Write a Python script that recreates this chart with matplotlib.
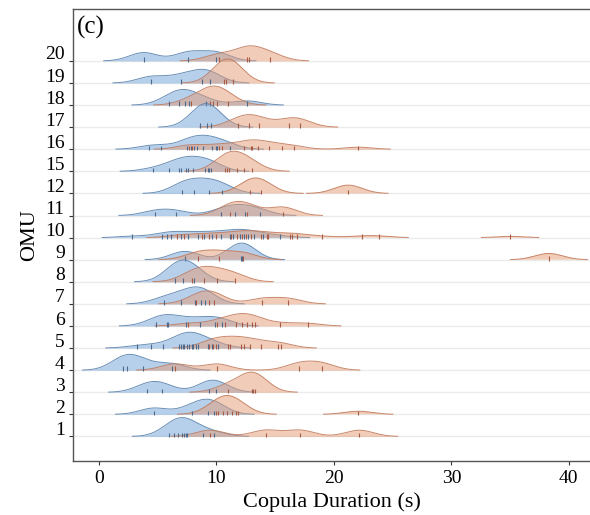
import matplotlib
matplotlib.use("Agg")
import matplotlib.pyplot as plt
import matplotlib.transforms as mtransforms
import numpy as np

plt.rcParams["font.family"] = ["Liberation Serif", "DejaVu Serif"]

# OMU labels, bottom to top
omu_labels = ["1", "2", "3", "4", "5", "6", "7", "8", "9", "10",
              "11", "12", "15", "16", "17", "18", "19", "20"]

# copula durations (s) per OMU, blue group
blue_durations = [
    [5.99, 6.38, 6.75, 7.09, 7.23, 7.38, 7.46, 8.82, 9.79],
    [4.68, 7.89, 9.3, 9.82],
    [4.11, 5.39, 9.39, 10.0],
    [2.01, 2.41, 3.72, 6.18],
    [3.21, 4.43, 5.48, 6.84, 6.98, 7.12, 7.26, 7.46, 7.69, 7.89, 8.03, 8.26,
     8.45, 9.25, 9.59, 10.10],
    [4.82, 5.76, 5.84, 7.38, 8.60, 9.87, 10.44],
    [5.56, 6.98, 8.17, 8.65, 9.02],
    [6.50, 7.12, 8.06],
    [7.32, 12.09, 12.20],
    [2.78, 5.36, 5.76, 6.10, 6.98, 7.55, 8.40, 8.96, 9.65, 10.38, 11.15, 11.43,
     12.00, 12.34, 12.65, 13.22, 13.99, 15.40],
    [4.79, 6.52, 10.38, 11.55, 12.40, 13.67],
    [7.04, 8.06, 9.33, 10.44],
    [4.62, 5.99, 6.84, 6.98, 7.43, 7.57, 7.97, 9.02, 9.25, 9.39, 9.53],
    [4.26, 5.30, 7.52, 7.80, 8.09, 8.31, 8.88, 9.65, 9.93, 10.07, 11.15],
    [8.60, 9.16, 9.56],
    [5.96, 6.81, 7.32, 7.63, 9.08, 12.62],
    [4.45, 6.98, 8.77, 9.42],
    [3.80, 7.60, 9.96],
]

# copula durations (s) per OMU, orange group
orange_durations = [
    [9.45, 14.18, 17.11, 22.16],
    [9.96, 10.16, 10.58, 10.87, 11.35, 11.63, 11.80, 22.07],
    [11.01, 12.99, 13.14, 13.28],
    [6.47, 10.01, 17.05, 18.95],
    [9.39, 9.73, 9.93, 11.01, 11.15, 12.09, 12.37, 12.85, 13.76, 15.26, 15.46],
    [7.60, 10.01, 10.72, 11.63, 12.14, 12.57, 13.00, 13.28, 15.40, 17.76],
    [8.3, 9.39, 9.82, 13.90, 16.11],
    [7.9, 8.94, 10.01, 11.55],
    [8.40, 10.2, 12.30, 38.3],
    [6.67, 7.26, 8.79, 9.39, 9.93, 11.26, 11.72, 12.14, 12.48, 12.94, 13.79,
     14.27, 14.41, 16.26, 16.43, 16.82, 18.95, 22.35, 23.86, 35.0],
    [11.18, 12.57, 15.63],
    [12.88, 13.79, 21.22],
    [10.72, 10.89, 11.06, 11.72, 12.37, 12.99],
    [7.66, 7.94, 10.21, 10.50, 12.34, 12.91, 13.05, 13.56, 14.47, 15.60,
     16.62, 22.07],
    [11.80, 12.79, 13.62, 16.17, 17.11],
    [7.83, 9.42, 9.70, 10.01, 10.98],
    [10.67, 10.81, 11.40],
    [10.18, 12.62, 12.79, 14.58],
]

BW = 1.2      # shared kde bandwidth (s)
SCALE = 3.4   # density -> row units

BLUE_FILL, BLUE_LINE, BLUE_RUG = "#6fa3d8", "#5a82ad", "#4d6a8c"
ORANGE_FILL, ORANGE_LINE, ORANGE_RUG = "#e59a72", "#c27a5c", "#a85a44"


def kde(values, bw):
    values = np.asarray(values, dtype=float)
    grid = np.linspace(values.min() - 3 * bw, values.max() + 3 * bw, 800)
    z = (grid[:, None] - values[None, :]) / bw
    dens = np.exp(-0.5 * z ** 2).sum(axis=1) / (len(values) * bw * np.sqrt(2 * np.pi))
    # drop the flat stretches between far-apart clusters
    dens[dens < 2e-3] = np.nan
    return grid, dens


fig = plt.figure(figsize=(5.9, 5.15), dpi=100)
ax = fig.add_axes([0.1237, 0.1049, 0.8763, 0.8776])

n_rows = len(omu_labels)
for i in range(n_rows):
    ax.axhline(i, color="#ebebeb", lw=1.0, zorder=0)

for i in reversed(range(n_rows)):
    z = 2 * (n_rows - i)
    for vals, fill, line, rug in [
        (blue_durations[i], BLUE_FILL, BLUE_LINE, BLUE_RUG),
        (orange_durations[i], ORANGE_FILL, ORANGE_LINE, ORANGE_RUG),
    ]:
        gx, gd = kde(vals, BW)
        top = i + SCALE * gd
        ax.fill_between(gx, i, top, where=~np.isnan(gd), color=fill,
                        alpha=0.5, lw=0, zorder=z)
        ax.plot(gx, top, color=line, lw=0.7, alpha=0.9, zorder=z)
        ax.vlines(vals, i - 0.04, i + 0.17, color=rug, lw=0.8, zorder=z + 1)

ax.set_xlim(-2.21, 41.8)
ax.set_ylim(-1.11, 19.35)
ax.set_xticks([0, 10, 20, 30, 40])
ax.set_yticks(range(n_rows))
ax.set_yticklabels(omu_labels)
ax.tick_params(axis="both", labelsize=14, length=3, width=0.8, color="#333333")
ax.tick_params(axis="y", pad=3)

# lift the y labels a little above their baselines
offset = mtransforms.ScaledTranslation(0, 8 / 100, fig.dpi_scale_trans)
for lab in ax.get_yticklabels():
    lab.set_transform(lab.get_transform() + offset)

for side in ["left", "top", "bottom"]:
    ax.spines[side].set_color("#555555")
    ax.spines[side].set_linewidth(1.0)
ax.spines["right"].set_visible(False)

ax.set_xlabel("Copula Duration (s)", fontsize=16, labelpad=4)
ax.set_ylabel("OMU", fontsize=16, labelpad=4)
ax.text(0.008, 0.985, "(c)", transform=ax.transAxes, fontsize=18,
        va="top", ha="left")

fig.savefig("out.png", dpi=100)
